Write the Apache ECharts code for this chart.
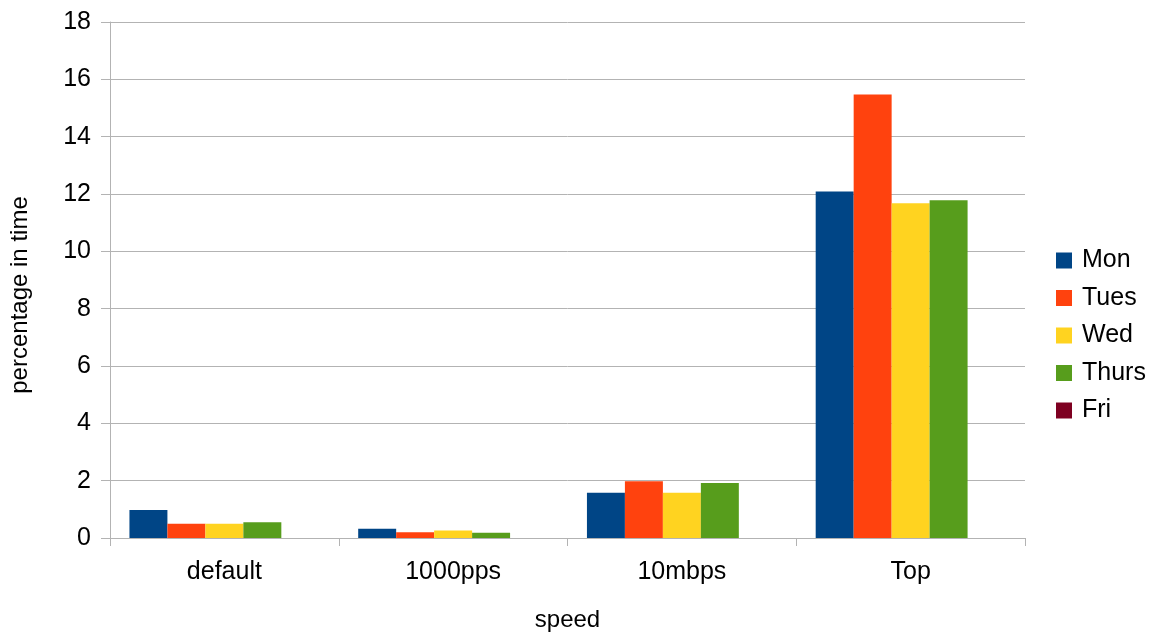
<!DOCTYPE html>
<html><head><meta charset="utf-8">
<script src="https://cdn.jsdelivr.net/npm/echarts@6/dist/echarts.min.js"></script>
<style>html,body{margin:0;padding:0;background:#fff;overflow:hidden}#c{width:1164px;height:634px}</style>
</head><body><div id="c"></div>
<script>
var categories = ['default', '1000pps', '10mbps', 'Top'];
var seriesNames = ['Mon', 'Tues', 'Wed', 'Thurs', 'Fri'];
var mon = [0.98, 0.32, 1.58, 12.09];
var tues = [0.5, 0.2, 1.98, 15.47];
var wed = [0.5, 0.26, 1.58, 11.68];
var thurs = [0.55, 0.18, 1.92, 11.78];
var fri = [0, 0, 0, 0];
var yTicks = { min: 0, max: 18, interval: 2 };
var xTitle = 'speed';
var yTitle = 'percentage in time';

var colors = ['#004586', '#ff420e', '#ffd320', '#579d1c', '#7e0021'];
var values = [mon, tues, wed, thurs, fri];
var font = 'Liberation Sans';
var chart = echarts.init(document.getElementById('c'));
chart.setOption({
  animation: false,
  color: colors,
  textStyle: { fontFamily: font },
  grid: { left: 110, right: 139, top: 22, bottom: 96, containLabel: false, outerBoundsMode: 'none' },
  legend: {
    orient: 'vertical', left: 1051, top: 243,
    itemWidth: 16, itemHeight: 16, itemGap: 12.5,
    icon: 'rect',
    textStyle: { fontFamily: font, fontSize: 25, lineHeight: 25, color: '#000', padding: [0, 0, 0, 5] },
    data: seriesNames
  },
  graphic: [{
    type: 'text', x: 20, y: 295, rotation: Math.PI / 2,
    style: { text: yTitle, font: '24px "Liberation Sans"', fill: '#000', align: 'center', verticalAlign: 'middle' }
  }],
  xAxis: {
    type: 'category', data: categories,
    name: xTitle, nameLocation: 'middle', nameGap: 70,
    nameTextStyle: { fontFamily: font, fontSize: 24, color: '#000', verticalAlign: 'top' },
    axisLine: { lineStyle: { color: '#b3b3b3' } },
    axisTick: { show: true, length: 8, lineStyle: { color: '#b3b3b3' } },
    axisLabel: { fontFamily: font, fontSize: 25, color: '#000', margin: 22 }
  },
  yAxis: {
    type: 'value', min: yTicks.min, max: yTicks.max, interval: yTicks.interval,
    axisLine: { show: true, lineStyle: { color: '#b3b3b3' } },
    axisTick: { show: true, length: 9, lineStyle: { color: '#b3b3b3' } },
    splitLine: { lineStyle: { color: '#b3b3b3' } },
    axisLabel: { fontFamily: font, fontSize: 25, color: '#000', margin: 19 }
  },
  series: seriesNames.map(function (n, i) {
    return { name: n, type: 'bar', data: values[i], barGap: '0%', barCategoryGap: '17%' };
  })
});
</script></body></html>
